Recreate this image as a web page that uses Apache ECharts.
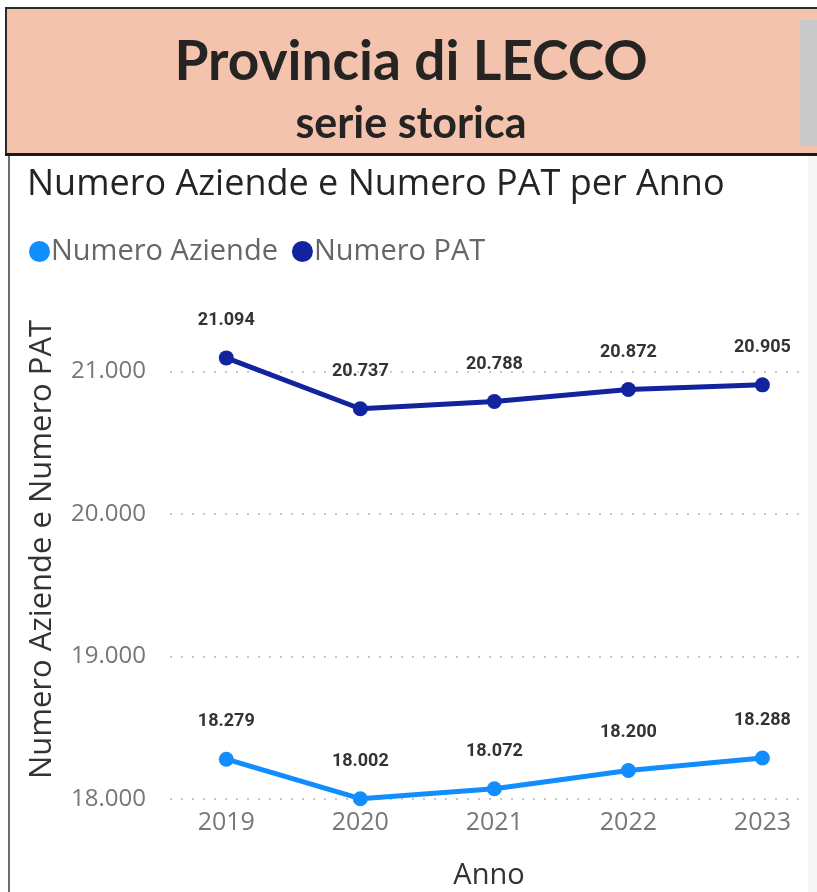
<!DOCTYPE html>
<html>
<head>
<meta charset="utf-8">
<script src="https://cdn.jsdelivr.net/npm/echarts@6/dist/echarts.min.js"></script>
<style>
  html, body { margin: 0; padding: 0; background: #fff; }
  #view { width: 817px; height: 892px; }
</style>
</head>
<body>
<div id="view"></div>
<script>
var anni = [2019, 2020, 2021, 2022, 2023];
var numeroAziende = [18279, 18002, 18072, 18200, 18288];
var numeroPAT = [21094, 20737, 20788, 20872, 20905];

function fmt(v) {
    return String(Math.round(v)).replace(/\B(?=(\d{3})+(?!\d))/g, '.');
}
function pairs(vals) {
    return anni.map(function (a, i) { return [a, vals[i]]; });
}

var myChart = echarts.init(document.getElementById('view'));

var labelStyle = {
    show: true,
    position: 'top',
    distance: 21,
    fontFamily: 'Roboto',
    fontWeight: 'bold',
    fontSize: 18,
    color: '#333',
    formatter: function (p) { return fmt(p.value[1]); }
};

option = {
    animation: false,
    backgroundColor: '#fff',
    graphic: [
        // header box
        { type: 'rect', shape: { x: 6, y: 8, width: 820, height: 147 },
          style: { fill: '#F3C3AE', stroke: '#2b2b2b', lineWidth: 2 } },
        { type: 'rect', shape: { x: 5, y: 153, width: 820, height: 3 }, style: { fill: '#1a1a1a' } },
        { type: 'rect', shape: { x: 800, y: 20, width: 20, height: 126 }, style: { fill: '#c9c9c9' } },
        { type: 'text', x: 411, y: 62,
          style: { text: 'Provincia di LECCO', fontFamily: 'Lato', fontWeight: 'bold', fontSize: 55,
                   fill: '#252423', align: 'center', verticalAlign: 'middle' } },
        { type: 'text', x: 411, y: 124,
          style: { text: 'serie storica', fontFamily: 'Lato', fontWeight: 'bold', fontSize: 43,
                   fill: '#252423', align: 'center', verticalAlign: 'middle' } },
        // panel borders
        { type: 'rect', shape: { x: 8, y: 156, width: 2, height: 736 }, style: { fill: '#6e6e6e' } },
        { type: 'rect', shape: { x: 808, y: 156, width: 9, height: 736 }, style: { fill: '#f6f6f6' } }
    ],
    title: {
        text: 'Numero Aziende e Numero PAT per Anno',
        left: 22,
        top: 162,
        textStyle: { fontFamily: 'Open Sans', fontWeight: 'normal', fontSize: 36, color: '#252423' }
    },
    legend: {
        left: 24,
        top: 232,
        icon: 'circle',
        itemWidth: 21,
        itemHeight: 21,
        itemGap: 14,
        textStyle: { fontFamily: 'Open Sans', fontSize: 29, color: '#666', padding: [0, 0, 0, -4] },
        data: ['Numero Aziende', 'Numero PAT']
    },
    grid: { left: 170, right: 9, top: 300, bottom: 93, outerBoundsMode: 'none' },
    xAxis: {
        type: 'value',
        min: 2018.58,
        max: 2023.34,
        name: 'Anno',
        nameLocation: 'middle',
        nameGap: 62,
        nameTextStyle: { fontFamily: 'Open Sans', fontSize: 29, color: '#333' },
        axisLine: { show: false },
        axisTick: { show: false },
        splitLine: { show: false },
        axisLabel: {
            margin: 11,
            showMinLabel: false,
            showMaxLabel: false,
            fontFamily: 'Open Sans',
            fontSize: 25,
            color: '#777',
            formatter: function (v) { return Math.abs(v - Math.round(v)) < 1e-6 ? String(Math.round(v)) : ''; }
        }
    },
    yAxis: {
        type: 'value',
        min: 18000,
        max: 21500,
        interval: 1000,
        name: 'Numero Aziende e Numero PAT',
        nameLocation: 'middle',
        nameGap: 112,
        nameTextStyle: { fontFamily: 'Open Sans', fontSize: 31, color: '#333' },
        axisLine: { show: false },
        axisTick: { show: false },
        axisLabel: {
            margin: 24,
            showMaxLabel: false,
            fontFamily: 'Open Sans',
            fontSize: 24,
            color: '#777',
            formatter: function (v) { return v % 1000 === 0 ? fmt(v) : ''; }
        },
        splitLine: {
            show: true,
            showMaxLine: false,
            lineStyle: { color: '#c8c8c8', width: 2, type: [2, 9] }
        }
    },
    series: [
        {
            name: 'Numero Aziende',
            type: 'line',
            data: pairs(numeroAziende),
            color: '#118DFF',
            symbol: 'circle',
            symbolSize: 15,
            lineStyle: { width: 5 },
            label: labelStyle
        },
        {
            name: 'Numero PAT',
            type: 'line',
            data: pairs(numeroPAT),
            color: '#12239E',
            symbol: 'circle',
            symbolSize: 15,
            lineStyle: { width: 5 },
            label: labelStyle
        }
    ]
};

myChart.setOption(option);
</script>
</body>
</html>
